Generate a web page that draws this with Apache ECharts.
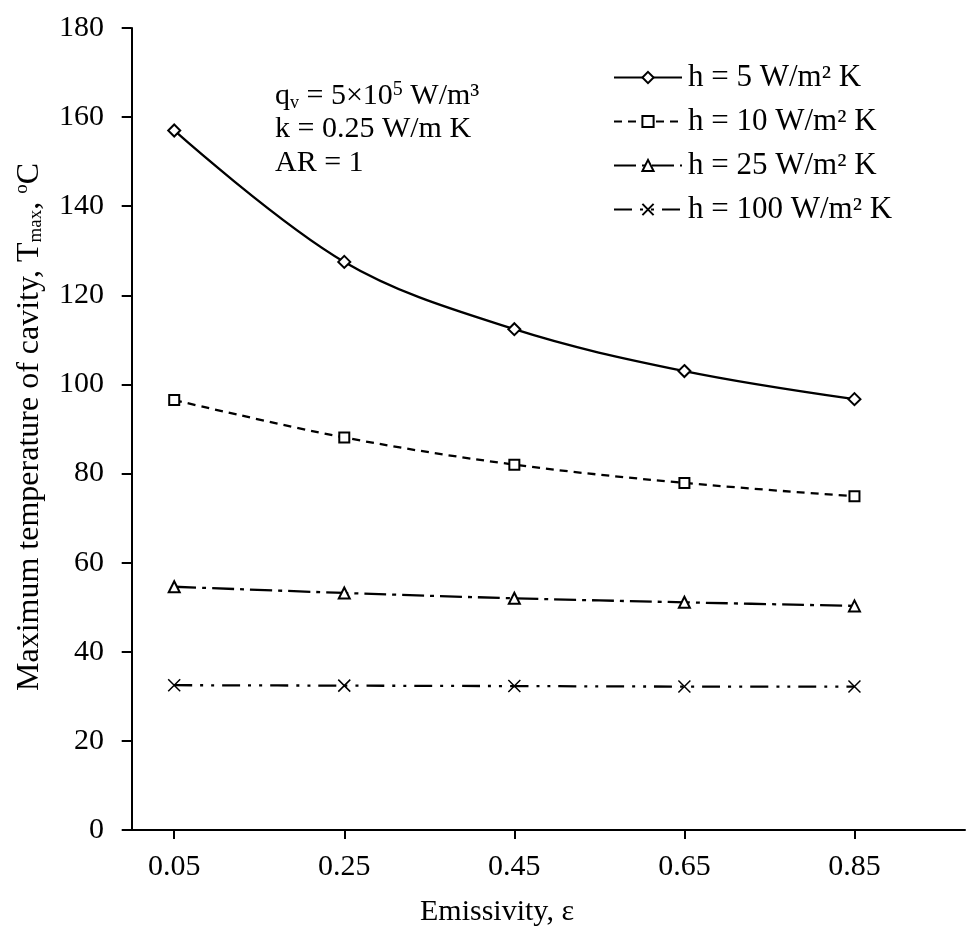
<!DOCTYPE html>
<html><head><meta charset="utf-8">
<script src="https://cdn.jsdelivr.net/npm/echarts@6/dist/echarts.min.js"></script>
<style>html,body{margin:0;padding:0;background:#fff}#c{width:971px;height:932px}</style>
</head><body><div id="c"></div>
<script>
const emissivity = [0.05, 0.25, 0.45, 0.65, 0.85];
const h5 = [157, 127.5, 112.4, 103, 96.7];
const h10 = [96.5, 88.1, 82.0, 77.9, 74.9];
const h25 = [54.6, 53.2, 52.0, 51.1, 50.3];
const h100 = [32.5, 32.4, 32.3, 32.2, 32.2];
const yTicks = [0, 20, 40, 60, 80, 100, 120, 140, 160, 180];
const names = ['h = 5 W/m² K', 'h = 10 W/m² K', 'h = 25 W/m² K', 'h = 100 W/m² K'];

const FONT = 'Liberation Serif, Times New Roman, serif';
const chart = echarts.init(document.getElementById('c'));
const pair = arr => emissivity.map((x, i) => [x, arr[i]]);
function mk(name, data, symbol, dash, size) {
  return {
    name, type: 'line', data: pair(data), smooth: 0.35,
    symbol, symbolSize: size, showSymbol: true,
    lineStyle: { color: '#000', width: 2.3, type: dash },
    itemStyle: { color: '#000', borderColor: '#000', borderWidth: 1.5 },
    emphasis: { disabled: true }, z: 3
  };
}
chart.setOption({
  animation: false,
  grid: { left: 130, right: 6, top: 28, bottom: 102 },
  xAxis: {
    type: 'value', min: -0.002, max: 0.98,
    axisLine: { lineStyle: { color: '#000', width: 2 } },
    axisTick: { show: true, customValues: emissivity, length: 9, lineStyle: { color: '#000', width: 2 } },
    axisLabel: { customValues: emissivity, formatter: v => v.toFixed(2), color: '#000', fontFamily: FONT, fontSize: 30, margin: 22 },
    splitLine: { show: false }
  },
  yAxis: {
    type: 'value', min: 0, max: 180, interval: 20,
    axisLine: { show: true, lineStyle: { color: '#000', width: 2 } },
    axisTick: { show: true, length: 10, lineStyle: { color: '#000', width: 2 } },
    axisLabel: { color: '#000', fontFamily: FONT, fontSize: 30, margin: 26,
      formatter: v => yTicks.includes(v) ? String(v) : '' },
    splitLine: { show: false }
  },
  legend: {
    orient: 'vertical', left: 608, top: 57,
    itemWidth: 68, itemHeight: 14, itemGap: 13,
    textStyle: { color: '#000', fontFamily: FONT, fontSize: 31, padding: [0, 0, 0, 1] },
    data: names
  },
  series: [
    mk(names[0], h5, 'emptyDiamond', 'solid', 12),
    mk(names[1], h10, 'emptyRect', [8, 6], 10),
    mk(names[2], h25, 'emptyTriangle', [22, 6, 4, 6], 11),
    mk(names[3], h100, 'path://M0,0L10,10M10,0L0,10', [18, 8, 3, 8, 3, 8], 12)
  ],
  graphic: [
    { type: 'text', left: 275, top: 80, style: { text: 'q{sub|v} = 5×10{sup|5} W/m³', font: '30px ' + FONT, fill: '#000',
      rich: { sub: { fontSize: 18, fontFamily: FONT, verticalAlign: 'bottom', padding: [10, 0, 0, 0] }, sup: { fontSize: 20, fontFamily: FONT, verticalAlign: 'top', padding: [0, 0, 12, 0] } } } },
    { type: 'text', left: 275, top: 114, style: { text: 'k = 0.25 W/m K', font: '30px ' + FONT, fill: '#000' } },
    { type: 'text', left: 275, top: 148, style: { text: 'AR = 1', font: '30px ' + FONT, fill: '#000' } },
    { type: 'text', x: 497, y: 912, style: { text: 'Emissivity, ε', font: '30px ' + FONT, fill: '#000', align: 'center', verticalAlign: 'middle' } },
    { type: 'text', x: 30, y: 427, rotation: Math.PI / 2,
      style: { text: 'Maximum temperature of cavity, T{sub|max}, {sup|o}C', font: '32px ' + FONT, fill: '#000', align: 'center', verticalAlign: 'middle',
        rich: { sub: { fontSize: 19, fontFamily: FONT, padding: [13, 0, 0, 0] }, sup: { fontSize: 19, fontFamily: FONT, padding: [0, 0, 15, 0] } } } }
  ]
});
</script></body></html>
